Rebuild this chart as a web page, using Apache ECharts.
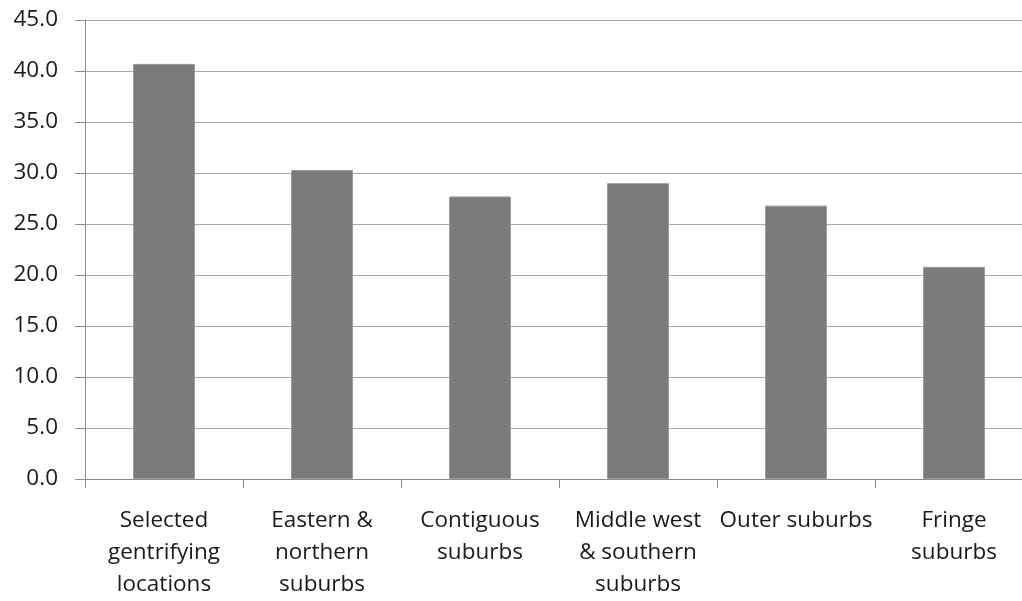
<!DOCTYPE html>
<html>
<head>
<meta charset="utf-8">
<script src="https://cdn.jsdelivr.net/npm/echarts@6/dist/echarts.min.js"></script>
<style>html,body{margin:0;padding:0;background:#fff;overflow:hidden;width:1022px;height:601px;}#c{width:1040px;height:601px;}</style>
</head>
<body>
<div id="c"></div>
<script>
var categories = [
  "Selected\ngentrifying\nlocations",
  "Eastern &\nnorthern\nsuburbs",
  "Contiguous\nsuburbs",
  "Middle west\n& southern\nsuburbs",
  "Outer suburbs",
  "Fringe\nsuburbs"
];
var values = [40.7, 30.3, 27.7, 29.0, 26.8, 20.8];

var chart = echarts.init(document.getElementById('c'), null, {renderer: 'canvas'});
chart.setOption({
  animation: false,
  backgroundColor: '#ffffff',
  grid: {left: 85, top: 20, right: 7, bottom: 120, containLabel: false},
  xAxis: {
    type: 'category',
    data: categories,
    axisLine: {lineStyle: {color: '#8c8c8c', width: 1}},
    axisTick: {show: true, length: 9, lineStyle: {color: '#8c8c8c'}},
    axisLabel: {
      interval: 0,
      margin: 26,
      color: '#1a1a1a',
      fontFamily: 'Open Sans',
      fontSize: 22.5,
      lineHeight: 32
    }
  },
  yAxis: {
    type: 'value',
    min: 0,
    max: 45,
    interval: 5,
    axisLine: {show: true, lineStyle: {color: '#8c8c8c', width: 1}},
    axisTick: {show: true, length: 10, lineStyle: {color: '#8c8c8c'}},
    splitLine: {show: true, lineStyle: {color: '#a6a6a6', width: 1}},
    axisLabel: {
      margin: 27,
      color: '#1a1a1a',
      fontFamily: 'Open Sans',
      fontSize: 22.5,
      formatter: function (v) { return v.toFixed(1); }
    }
  },
  series: [{
    type: 'bar',
    data: values,
    barWidth: 62,
    itemStyle: {color: '#7b7b7b', borderColor: '#9a9a9a', borderWidth: 1}
  }]
});
</script>
</body>
</html>
